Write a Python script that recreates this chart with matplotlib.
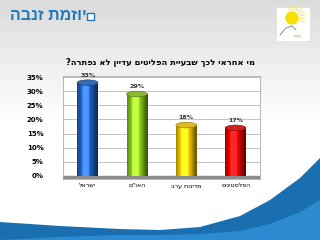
import numpy as np
import matplotlib.pyplot as plt
from matplotlib.patches import Ellipse, Circle
from matplotlib.colors import to_rgb

# data
categories = ["ישראל", 'האו"ם', "מדינות ערב", "הפלסטינים"]
values = [33, 29, 18, 17]
value_labels = ["33%", "29%", "18%", "17%"]
bar_colors = ["#1f5fc0", "#86c21a", "#f2c200", "#e00000"]
yticks = [0, 5, 10, 15, 20, 25, 30, 35]
title = "מי אחראי לכך שבעיית הפליטים עדיין לא נפתרה?"
header = "יוזמת זנבה"


def vis(s):
    # matplotlib has no bidi, so flip Hebrew text for display
    return s[::-1]


plt.rcParams['font.family'] = ['DejaVu Sans']
fig = plt.figure(figsize=(3.2, 2.4), dpi=100)

# background: grey-white gradient and blue swoosh
bg = fig.add_axes([0, 0, 1, 1], zorder=-1)
grad = np.concatenate([np.linspace(0.86, 1.0, 50), np.ones(50)]).reshape(-1, 1)
bg.imshow(np.dstack([grad, grad, grad]), extent=(0, 320, 0, 240), aspect='auto', origin='upper')
cx = np.array([0, 60, 120, 160, 200, 240, 270, 300, 320])
cy = np.array([18, 14, 11, 10, 13, 24, 40, 62, 82])
bg.fill_between(cx, 0, cy, color="#1a6fb0", lw=0)
cy2 = np.array([0, 3, 5, 5, 6, 9, 16, 28, 40])
bg.fill_between(cx, 0, cy2, color="#2b8ad0", lw=0)
bg.set_xlim(0, 320)
bg.set_ylim(0, 240)
bg.axis('off')

# header and logo
fig.text(0.03, 0.935, vis(header), fontsize=11.5, fontweight='bold', color="#1f78b8",
         ha='left', va='center', family=['Liberation Sans', 'DejaVu Sans'])
bg.add_patch(plt.Rectangle((87, 220), 7, 7, facecolor='white', edgecolor='#1f78b8', lw=1.0))
bg.add_patch(plt.Rectangle((276, 199), 34, 34, facecolor='white', edgecolor='#dddddd', lw=0.5))
for a in np.linspace(-0.3, 1.9, 9):
    bg.plot([292 + 8 * np.cos(a), 292 + 13 * np.cos(a)], [222 + 8 * np.sin(a), 222 + 13 * np.sin(a)],
            color="#f7e040", lw=0.6)
bg.add_patch(Circle((292, 222), 6, color="#f5e000"))
bg.plot([280, 286, 292, 296], [205, 212, 214, 210], color='#888888', lw=0.7)
bg.text(298, 202, "IPPC", fontsize=3, color="#c8a000", ha='center')

fig.text(0.5, 0.74, vis(title), fontsize=6, fontweight='bold', ha='center', va='center')

ax = fig.add_axes([0.197, 0.255, 0.616, 0.43])
ax.set_facecolor('white')
x = np.arange(len(values))
w = 0.42
for i, (xi, v, c) in enumerate(zip(x, values, bar_colors)):
    base = np.array(to_rgb(c))
    t = np.linspace(0, 1, 40)
    shade = 0.45 + 0.75 * np.sin(np.pi * (0.15 + 0.85 * t)) ** 1.5
    img = np.clip(base[None, :] * shade[:, None] + 0.15 * (shade[:, None] > 1.1), 0, 1)
    ax.imshow(img[None, :, :], extent=(xi - w / 2, xi + w / 2, 0, v), aspect='auto', zorder=3)
    top = np.clip(base * 0.8 + 0.12, 0, 1)
    ax.add_patch(Ellipse((xi, v), w, 2.0, facecolor=top, edgecolor=base * 0.6, lw=0.4, zorder=4))
    ax.text(xi, v + 1.8, value_labels[i], ha='center', va='bottom',
            fontsize=4.5, fontweight='bold', color='#333333', zorder=5)

ax.axhspan(-1.0, 0, color='#8c8c8c', zorder=2)
ax.set_xlim(-0.5, 3.5)
ax.set_ylim(-1.0, 35.5)
ax.set_yticks(yticks)
ax.set_yticklabels([f"{t}%" for t in yticks], fontsize=5, fontweight='bold')
ax.yaxis.grid(True, color='#aaaaaa', lw=0.5)
ax.set_axisbelow(True)
ax.set_xticks(x)
ax.set_xticklabels([vis(c) for c in categories], fontsize=4.5)
ax.tick_params(length=0, pad=3)
ax.tick_params(axis='y', pad=14)
for s in ax.spines.values():
    s.set_color('#999999')
    s.set_linewidth(0.5)

fig.savefig("out.png", dpi=100)
